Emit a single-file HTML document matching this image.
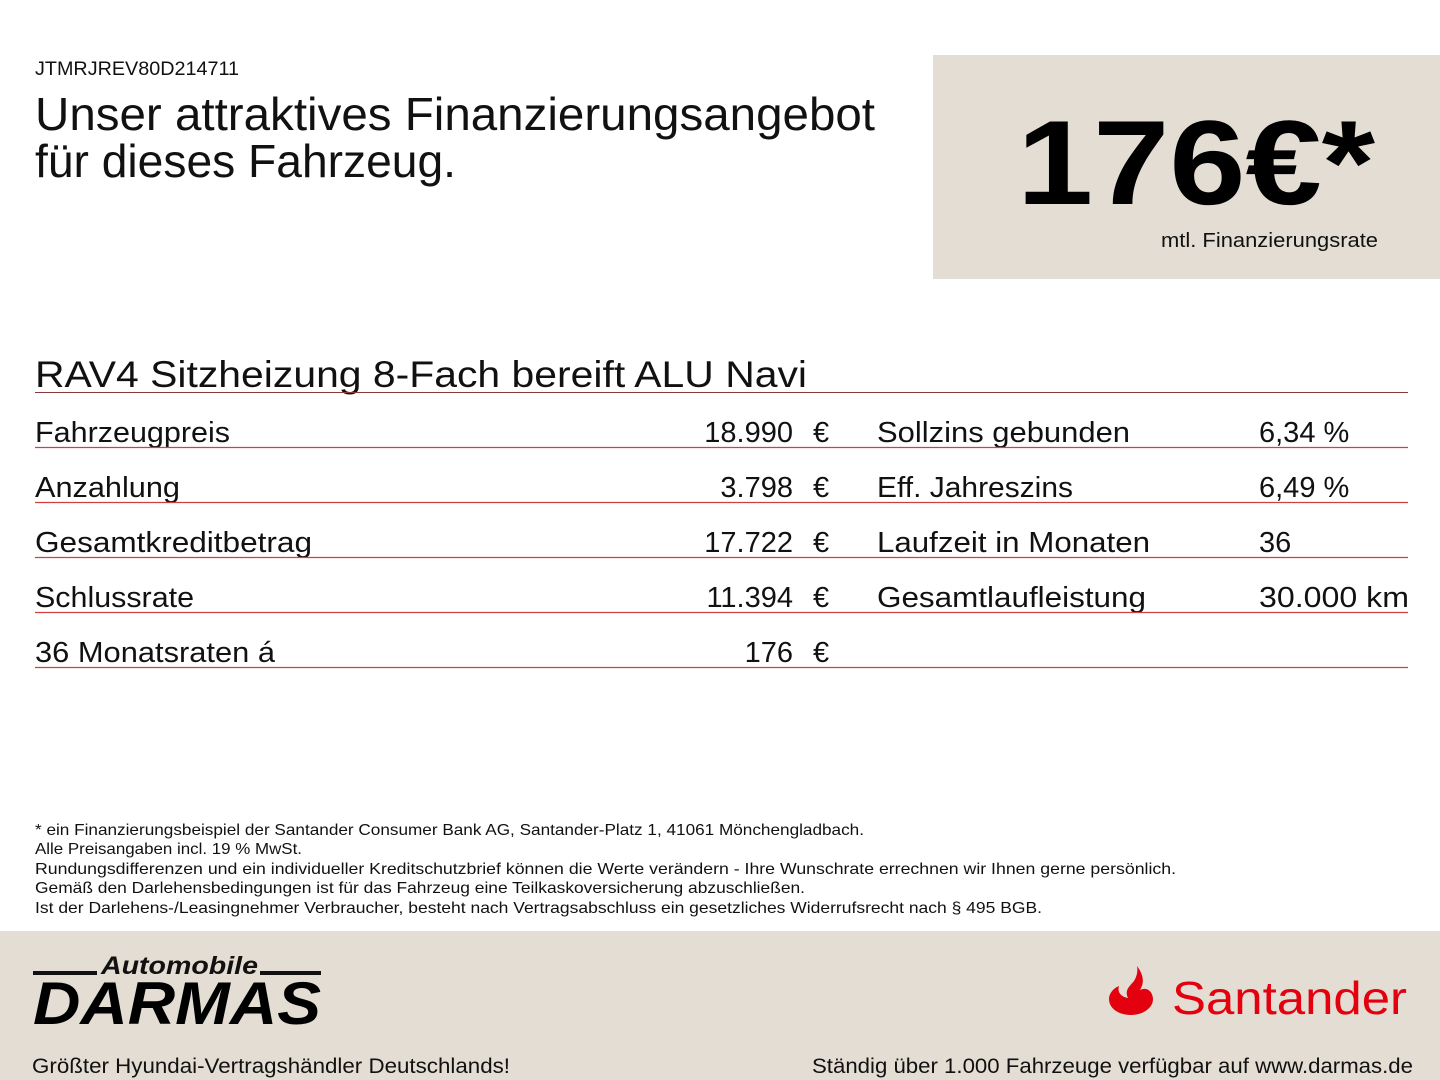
<!DOCTYPE html>
<html><head><meta charset="utf-8"><style>
html,body{margin:0;padding:0;background:#fff;}
svg{display:block}
text{font-family:"Liberation Sans",sans-serif;fill:#111}
</style></head><body>
<svg width="1440" height="1080" viewBox="0 0 1440 1080" xmlns="http://www.w3.org/2000/svg">
<rect x="933" y="55" width="507" height="224" fill="#e3ddd3"/>
<text x="35" y="75" font-size="19" textLength="204" lengthAdjust="spacingAndGlyphs">JTMRJREV80D214711</text>
<text x="35" y="130" font-size="46" textLength="840" lengthAdjust="spacingAndGlyphs">Unser attraktives Finanzierungsangebot</text>
<text x="35" y="177" font-size="46" textLength="421" lengthAdjust="spacingAndGlyphs">für dieses Fahrzeug.</text>
<text x="1017" y="204" font-size="120" font-weight="bold" textLength="358" lengthAdjust="spacingAndGlyphs" style="fill:#000">176€*</text>
<text x="1161" y="247" font-size="20" textLength="217" lengthAdjust="spacingAndGlyphs">mtl. Finanzierungsrate</text>
<text x="35" y="387" font-size="37" textLength="772" lengthAdjust="spacingAndGlyphs">RAV4 Sitzheizung 8-Fach bereift ALU Navi</text>
<line x1="35" y1="392.5" x2="1408" y2="392.5" stroke="#8a3a3a" stroke-width="1"/>
<g font-size="29">
<text x="35" y="442" textLength="195" lengthAdjust="spacingAndGlyphs">Fahrzeugpreis</text>
<text x="793" y="442" text-anchor="end">18.990</text><text x="813" y="442">€</text>
<text x="877" y="442" textLength="253" lengthAdjust="spacingAndGlyphs">Sollzins gebunden</text>
<text x="1259" y="442">6,34 %</text>
<text x="35" y="497" textLength="145" lengthAdjust="spacingAndGlyphs">Anzahlung</text>
<text x="793" y="497" text-anchor="end">3.798</text><text x="813" y="497">€</text>
<text x="877" y="497" textLength="196" lengthAdjust="spacingAndGlyphs">Eff. Jahreszins</text>
<text x="1259" y="497">6,49 %</text>
<text x="35" y="552" textLength="277" lengthAdjust="spacingAndGlyphs">Gesamtkreditbetrag</text>
<text x="793" y="552" text-anchor="end">17.722</text><text x="813" y="552">€</text>
<text x="877" y="552" textLength="273" lengthAdjust="spacingAndGlyphs">Laufzeit in Monaten</text>
<text x="1259" y="552">36</text>
<text x="35" y="607" textLength="159" lengthAdjust="spacingAndGlyphs">Schlussrate</text>
<text x="793" y="607" text-anchor="end">11.394</text><text x="813" y="607">€</text>
<text x="877" y="607" textLength="269" lengthAdjust="spacingAndGlyphs">Gesamtlaufleistung</text>
<text x="1259" y="607" textLength="150" lengthAdjust="spacingAndGlyphs">30.000 km</text>
<text x="35" y="662" textLength="240" lengthAdjust="spacingAndGlyphs">36 Monatsraten á</text>
<text x="793" y="662" text-anchor="end">176</text><text x="813" y="662">€</text>
</g>
<g stroke="#d04040" stroke-width="1.2">
<line x1="35" y1="447.5" x2="1408" y2="447.5"/>
<line x1="35" y1="502.5" x2="1408" y2="502.5"/>
<line x1="35" y1="557.5" x2="1408" y2="557.5"/>
<line x1="35" y1="612.5" x2="1408" y2="612.5"/>
<line x1="35" y1="667.5" x2="1408" y2="667.5"/>
</g>
<g font-size="16">
<text x="35" y="835" textLength="829" lengthAdjust="spacingAndGlyphs">* ein Finanzierungsbeispiel der Santander Consumer Bank AG, Santander-Platz 1, 41061 Mönchengladbach.</text>
<text x="35" y="854" textLength="267" lengthAdjust="spacingAndGlyphs">Alle Preisangaben incl. 19 % MwSt.</text>
<text x="35" y="874" textLength="1141" lengthAdjust="spacingAndGlyphs">Rundungsdifferenzen und ein individueller Kreditschutzbrief können die Werte verändern - Ihre Wunschrate errechnen wir Ihnen gerne persönlich.</text>
<text x="35" y="893" textLength="770" lengthAdjust="spacingAndGlyphs">Gemäß den Darlehensbedingungen ist für das Fahrzeug eine Teilkaskoversicherung abzuschließen.</text>
<text x="35" y="913" textLength="1007" lengthAdjust="spacingAndGlyphs">Ist der Darlehens-/Leasingnehmer Verbraucher, besteht nach Vertragsabschluss ein gesetzliches Widerrufsrecht nach § 495 BGB.</text>
</g>
<rect x="0" y="931" width="1440" height="149" fill="#e3ddd3"/>
<rect x="33" y="971" width="64" height="4" fill="#111"/>
<rect x="260" y="971" width="61" height="4" fill="#111"/>
<text x="101" y="974" font-size="25" font-weight="bold" font-style="italic" textLength="157" lengthAdjust="spacingAndGlyphs">Automobile</text>
<text x="33" y="1024" font-size="60" font-weight="bold" font-style="italic" textLength="288" lengthAdjust="spacingAndGlyphs" style="fill:#000">DARMAS</text>
<text x="32" y="1073" font-size="21" textLength="478" lengthAdjust="spacingAndGlyphs">Größter Hyundai-Vertragshändler Deutschlands!</text>
<text x="812" y="1073" font-size="21" textLength="601" lengthAdjust="spacingAndGlyphs">Ständig über 1.000 Fahrzeuge verfügbar auf www.darmas.de</text>
<path fill="#e3000f" d="M1137 966c6 8 8 16 3 24c8-4 13 3 13 9c0 9-10 16-22 16c-13 0-22-7-22-16c0-6 5-11 10-13c-2 6 2 11 9 12c-4-8 2-12 6-17c3-5 4-10 3-15z"/>
<text x="1172" y="1014" font-size="46" textLength="235" lengthAdjust="spacingAndGlyphs" style="fill:#e3000f">Santander</text>
</svg>
</body></html>
